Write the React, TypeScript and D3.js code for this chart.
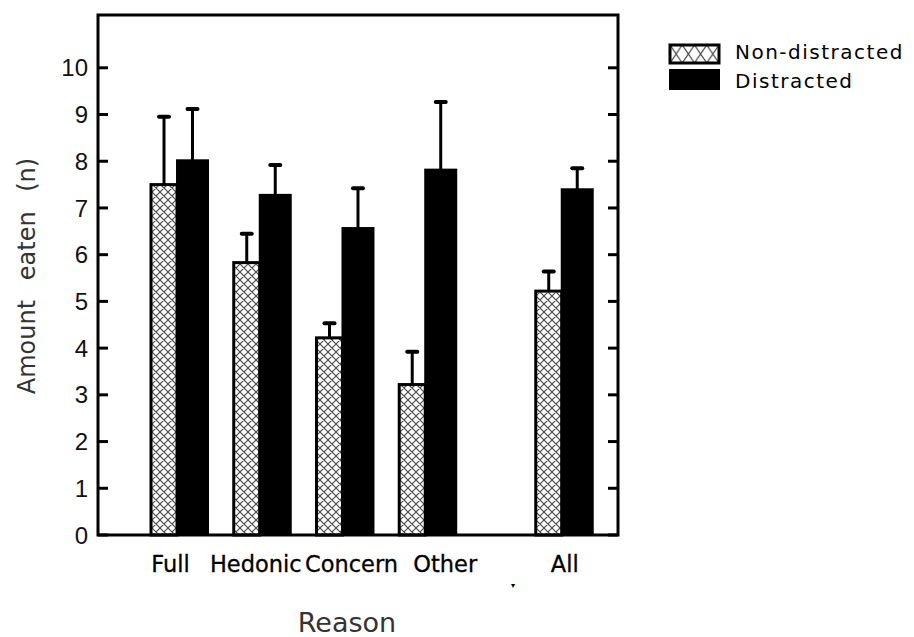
// Grouped bar chart: amount eaten by reason, non-distracted vs distracted
import React from 'react';
import * as d3 from 'd3';

const categories = ['Full', 'Hedonic', 'Concern', 'Other', 'All'];
const positions = [1, 2, 3, 4, 5.65];
// the printed labels sit a little off their group centre
const labelShift = [-6.5, -4, 9, 20, 3];
const nonDistracted = [7.5, 5.83, 4.22, 3.22, 5.22];
const nonDistractedErr = [1.45, 0.62, 0.31, 0.7, 0.42];
const distracted = [8.02, 7.28, 6.57, 7.82, 7.4];
const distractedErr = [1.1, 0.64, 0.85, 1.45, 0.45];
const yTicks = [0, 1, 2, 3, 4, 5, 6, 7, 8, 9, 10];
const seriesNames = ['Non-distracted', 'Distracted'];

const W = 914;
const H = 637;
const left = 98;
const right = 618;
const top = 15;
const bottom = 535;

export default function App() {
  const x = d3.scaleLinear().domain([0.045, 6.33]).range([left, right]);
  const y = d3.scaleLinear().domain([0, 11.13]).range([bottom, top]);

  const ndW = 26;
  const dW = 31;

  const bars = categories.map((c, i) => {
    const cx = x(positions[i]);
    return {
      c,
      cx,
      lx: cx + labelShift[i],
      nd: { x0: cx - ndW, w: ndW, v: nonDistracted[i], e: nonDistractedErr[i] },
      d: { x0: cx, w: dW, v: distracted[i], e: distractedErr[i] },
    };
  });

  const errBar = (b: { x0: number; w: number; v: number; e: number }, key: string) => {
    const ex = b.x0 + b.w / 2;
    return (
      <g key={key}>
        <line x1={ex} x2={ex} y1={y(b.v)} y2={y(b.v + b.e)} stroke="#000" strokeWidth={3} />
        <line x1={ex - 5} x2={ex + 5} y1={y(b.v + b.e)} y2={y(b.v + b.e)}
          stroke="#000" strokeWidth={4} strokeLinecap="round" />
      </g>
    );
  };

  return (
    <svg width={W} height={H} style={{ position: 'absolute', left: 0, top: 0, background: '#fff' }}
      fontFamily="DejaVu Sans">
      <defs>
        <pattern id="hatch" patternUnits="userSpaceOnUse" width={8} height={8}>
          <rect width={8} height={8} fill="#fff" />
          <path d="M0,0 L8,8 M8,0 L0,8 M-1,7 L1,9 M7,-1 L9,1 M-1,1 L1,-1 M7,9 L9,7"
            stroke="#444" strokeWidth={1.1} />
        </pattern>
        <pattern id="hatchLegend" patternUnits="userSpaceOnUse" x={670} y={45} width={12.25} height={18}>
          <rect width={12.25} height={18} fill="#fff" />
          <path d="M0,0 L12.25,18 M12.25,0 L0,18" stroke="#444" strokeWidth={1.2} />
        </pattern>
      </defs>

      {/* bars */}
      {bars.map((b) => (
        <g key={b.c}>
          {errBar(b.nd, 'nde')}
          {errBar(b.d, 'de')}
          <rect x={b.nd.x0} y={y(b.nd.v)} width={b.nd.w} height={bottom - y(b.nd.v)}
            fill="url(#hatch)" stroke="#000" strokeWidth={3} />
          <rect x={b.d.x0} y={y(b.d.v)} width={b.d.w} height={bottom - y(b.d.v)}
            fill="#000" stroke="#000" strokeWidth={2} />
        </g>
      ))}

      {/* frame */}
      <rect x={left} y={top} width={right - left} height={bottom - top}
        fill="none" stroke="#000" strokeWidth={3} />

      {/* y ticks */}
      {yTicks.map((t) => (
        <g key={t}>
          <line x1={left} x2={left + 10} y1={y(t)} y2={y(t)} stroke="#000" strokeWidth={3} />
          <line x1={right - 10} x2={right} y1={y(t)} y2={y(t)} stroke="#000" strokeWidth={3} />
          <text x={88} y={y(t)} dy="0.36em" textAnchor="end" fontSize={24}
            fontFamily="Liberation Sans" fill="#111">{t}</text>
        </g>
      ))}

      {/* x labels */}
      {bars.map((b) => (
        <text key={b.c} x={b.lx} y={572} textAnchor="middle" fontSize={22.5}
          fill="#000" stroke="#000" strokeWidth={0.3}>{b.c}</text>
      ))}
      <text x={513} y={588} textAnchor="middle" fontSize={8} fill="#000">▾</text>

      {/* axis titles */}
      <text x={347} y={632} textAnchor="middle" fontSize={27} fill="#333">Reason</text>
      <text transform={`translate(35,${276}) rotate(-90)`} textAnchor="middle" fontSize={24}
        fill="#333" wordSpacing={12}>Amount eaten (n)</text>

      {/* legend */}
      <rect x={670} y={45} width={49} height={18} fill="url(#hatchLegend)" stroke="#000" strokeWidth={3} />
      <rect x={670} y={70} width={49} height={19} fill="#000" stroke="#000" strokeWidth={2} />
      <text x={735} y={59} fontSize={20} letterSpacing={1.5} fill="#000">{seriesNames[0]}</text>
      <text x={735} y={88} fontSize={20} letterSpacing={1.5} fill="#000">{seriesNames[1]}</text>
    </svg>
  );
}
